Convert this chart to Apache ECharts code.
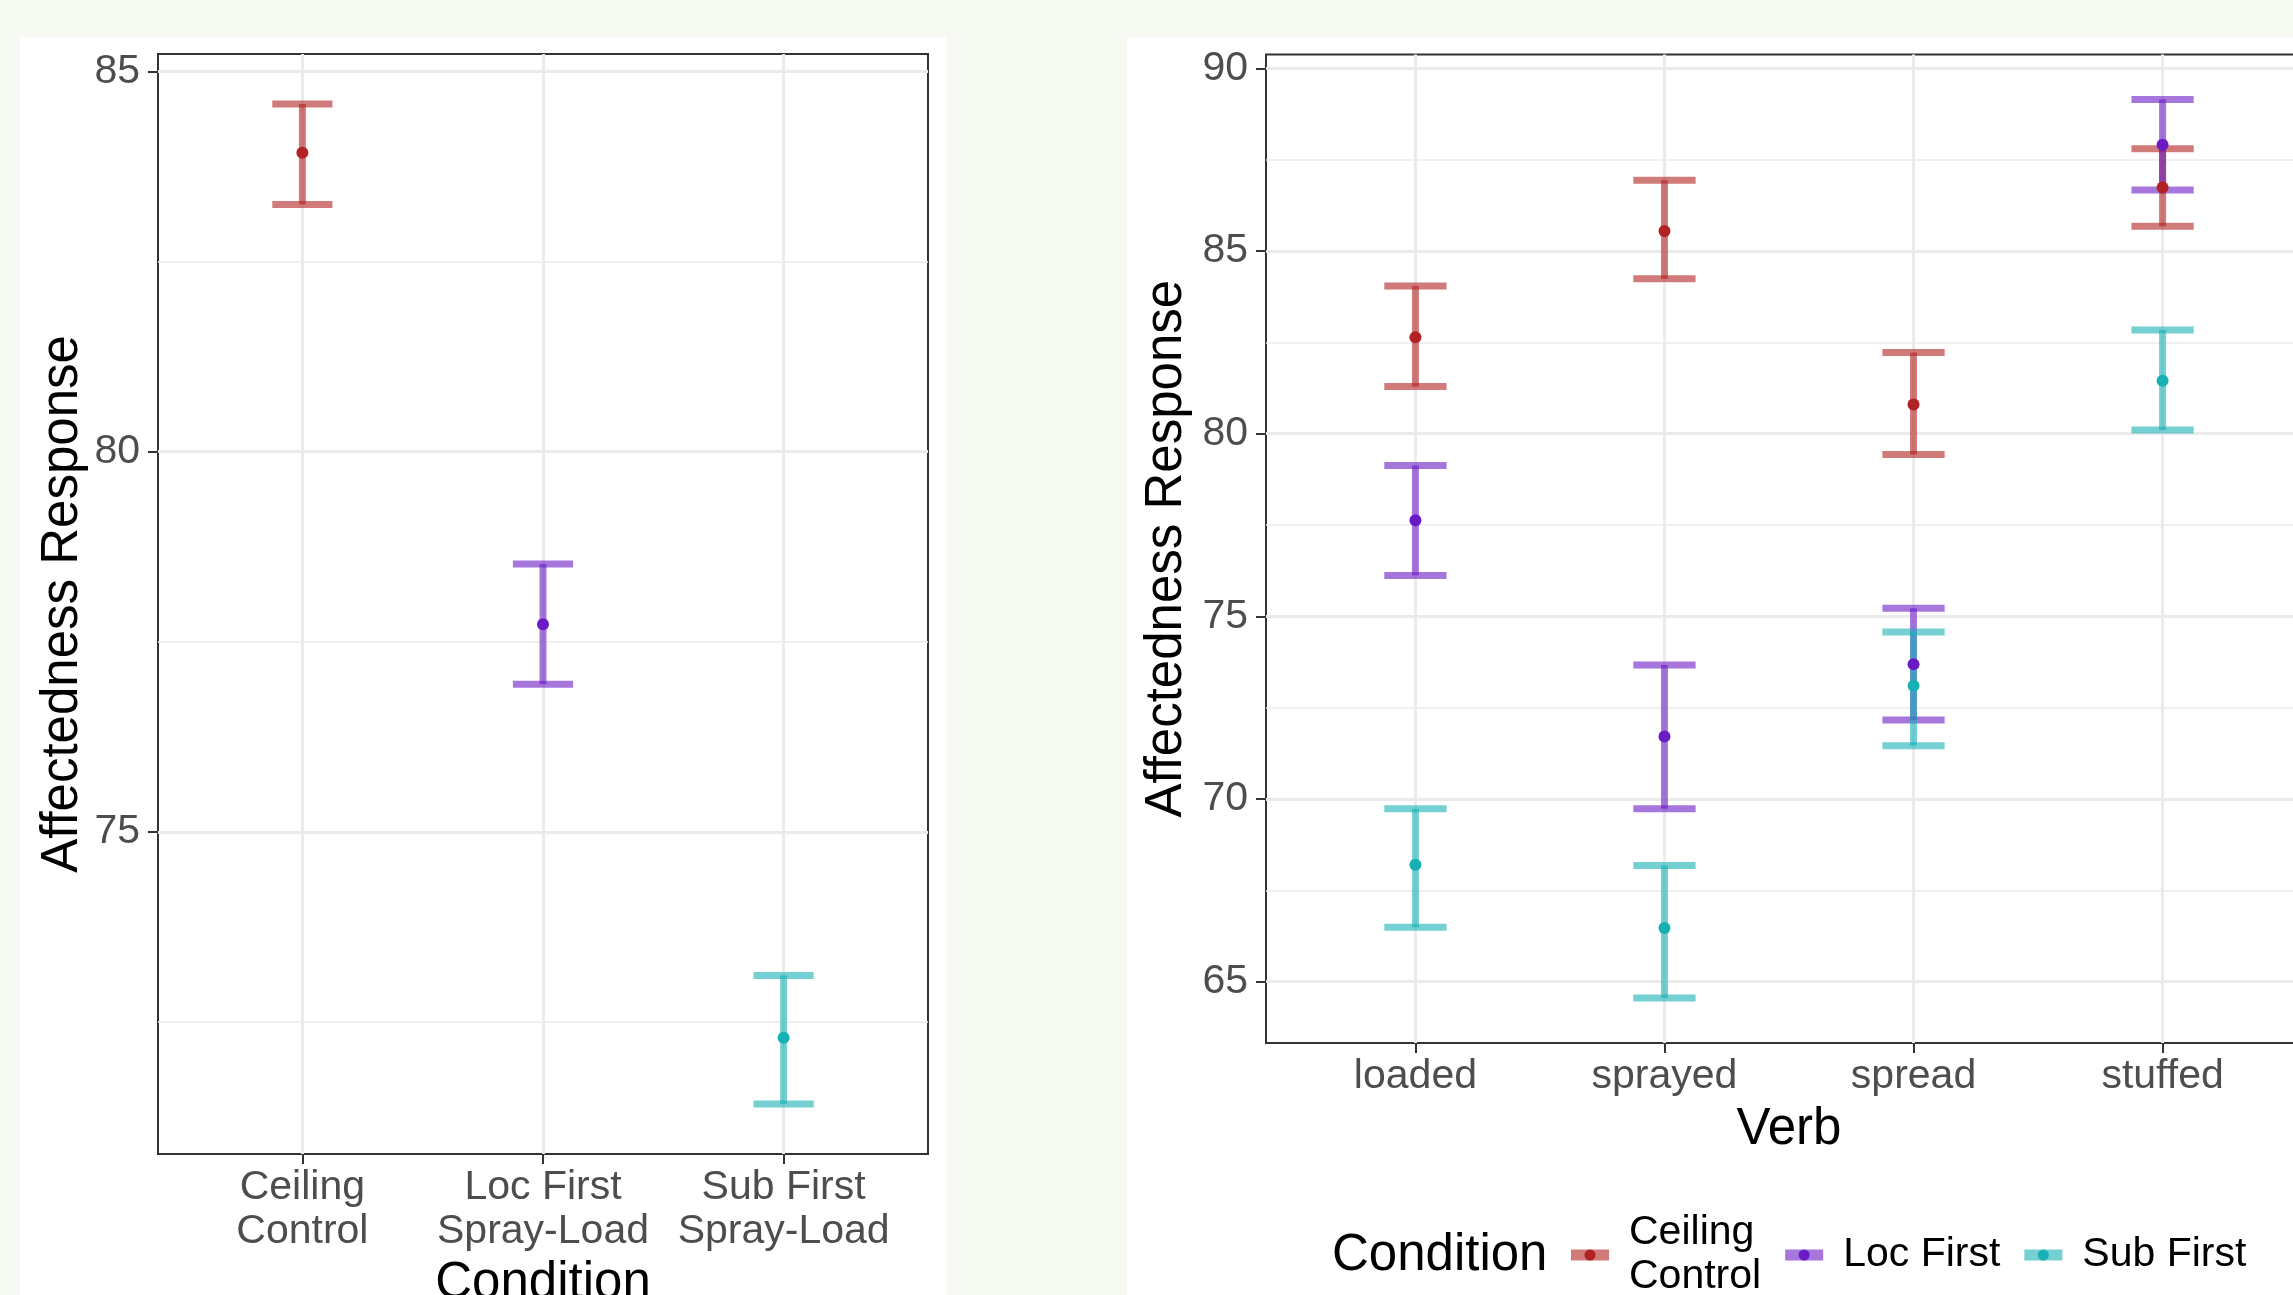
<!DOCTYPE html>
<html><head><meta charset="utf-8">
<script src="https://cdn.jsdelivr.net/npm/echarts@6/dist/echarts.min.js"></script>
<style>html,body{margin:0;padding:0;background:#f7f9f3;} #c{width:2293px;height:1295px;}</style>
</head><body><div id="c"></div>
<script>
// ---- data ----
const conditions = ['Ceiling Control', 'Loc First', 'Sub First'];
const legendLabels = ['Ceiling\nControl', 'Loc First', 'Sub First'];
const leftCategories = ['Ceiling\nControl', 'Loc First\nSpray-Load', 'Sub First\nSpray-Load'];
const leftMean = [83.93, 77.73, 72.29];
const leftLow  = [83.25, 76.94, 71.42];
const leftHigh = [84.57, 78.52, 73.11];
const leftYTicks = [75, 80, 85];
const leftYMinor = [72.5, 77.5, 82.5];

const verbs = ['loaded', 'sprayed', 'spread', 'stuffed'];
const ceilingMean = [82.64, 85.55, 80.80, 86.74];
const ceilingLow  = [81.29, 84.24, 79.43, 85.68];
const ceilingHigh = [84.04, 86.94, 82.22, 87.80];
const locMean = [77.63, 71.71, 73.69, 87.91];
const locLow  = [76.12, 69.73, 72.16, 86.67];
const locHigh = [79.13, 73.67, 75.22, 89.15];
const subMean = [68.20, 66.47, 73.10, 81.45];
const subLow  = [66.49, 64.55, 71.46, 80.10];
const subHigh = [69.73, 68.18, 74.57, 82.84];
const rightYTicks = [65, 70, 75, 80, 85, 90];
const rightYMinor = [67.5, 72.5, 77.5, 82.5, 87.5];

const colors = ['#b22222', '#6a1bc6', '#17b1b4'];

// ---- helpers ----
const FONT = "'Liberation Sans', Arial, Helvetica, sans-serif";
const CAP_HALF = 0.125;
function expand(lows, highs) {
  const lo = Math.min(...lows), hi = Math.max(...highs), d = (hi - lo) * 0.05;
  return [lo - d, hi + d];
}
function errRender(color) {
  return function (params, api) {
    const x = api.value(0), lo = api.value(1), hi = api.value(2);
    const pLo = api.coord([x, lo]), pHi = api.coord([x, hi]);
    const half = api.coord([x + CAP_HALF, lo])[0] - pLo[0];
    const st = { stroke: color, lineWidth: 7, opacity: 0.6, lineCap: 'butt' };
    return { type: 'group', children: [
      { type: 'line', shape: { x1: pLo[0], y1: pHi[1], x2: pLo[0], y2: pLo[1] }, style: st },
      { type: 'line', shape: { x1: pLo[0] - half, y1: pHi[1], x2: pLo[0] + half, y2: pHi[1] }, style: st },
      { type: 'line', shape: { x1: pLo[0] - half, y1: pLo[1], x2: pLo[0] + half, y2: pLo[1] }, style: st }
    ]};
  };
}
const tickStyle = { color: '#333333', width: 2 };
const labelStyle = { fontFamily: FONT, fontSize: 41, color: '#4d4d4d', lineHeight: 44 };
const nameStyle = { fontFamily: FONT, fontSize: 51, color: '#000', lineHeight: 51 };
const majorLine = { show: true, lineStyle: { color: '#ebebeb', width: 3 } };
const minorLine = { show: true, lineStyle: { color: '#ebebeb', width: 1.6 } };

const leftExt = expand(leftLow, leftHigh);
const rightExt = expand(ceilingLow.concat(locLow, subLow), ceilingHigh.concat(locHigh, subHigh));
const leftX = leftCategories.map((_, i) => i + 1);
const rightX = verbs.map((_, i) => i + 1);

function xAxisDef(grid, cats, xs, name, gap) {
  return {
    gridIndex: grid, type: 'value', min: 0.4, max: cats.length + 0.6,
    axisLine: { show: false },
    axisTick: { show: true, length: 10, customValues: xs, lineStyle: tickStyle },
    axisLabel: { customValues: xs, formatter: v => cats[Math.round(v) - 1], margin: 12, ...labelStyle },
    splitLine: majorLine,
    name: name, nameLocation: 'middle', nameGap: gap, nameTextStyle: nameStyle
  };
}
function yAxisDef(grid, ext, ticks, gap) {
  return {
    gridIndex: grid, type: 'value', min: ext[0], max: ext[1],
    axisLine: { show: false },
    axisTick: { show: true, length: 10, customValues: ticks, lineStyle: tickStyle },
    axisLabel: { customValues: ticks, margin: 18, ...labelStyle },
    splitLine: majorLine,
    name: 'Affectedness Response', nameLocation: 'middle', nameGap: gap, nameTextStyle: nameStyle
  };
}
function yMinorDef(grid, ext, ticks) {
  return {
    gridIndex: grid, type: 'value', min: ext[0], max: ext[1],
    axisLine: { show: false },
    axisTick: { show: false, customValues: ticks },
    axisLabel: { show: false, customValues: ticks },
    splitLine: minorLine
  };
}

const series = [];
conditions.forEach((c, i) => {
  series.push({ name: c, type: 'custom', xAxisIndex: 0, yAxisIndex: 0, z: 3,
    renderItem: errRender(colors[i]), encode: { x: 0, y: [1, 2] },
    data: [[leftX[i], leftLow[i], leftHigh[i]]] });
});
const rLow = [ceilingLow, locLow, subLow], rHigh = [ceilingHigh, locHigh, subHigh], rMean = [ceilingMean, locMean, subMean];
conditions.forEach((c, i) => {
  series.push({ name: c, type: 'custom', xAxisIndex: 1, yAxisIndex: 2, z: 3,
    renderItem: errRender(colors[i]), encode: { x: 0, y: [1, 2] },
    data: rightX.map((x, j) => [x, rLow[i][j], rHigh[i][j]]) });
});
conditions.forEach((c, i) => {
  series.push({ name: c, type: 'scatter', xAxisIndex: 0, yAxisIndex: 0, z: 5,
    symbolSize: 12, itemStyle: { color: colors[i], opacity: 1 },
    data: [[leftX[i], leftMean[i]]] });
});
conditions.forEach((c, i) => {
  series.push({ name: c, type: 'scatter', xAxisIndex: 1, yAxisIndex: 2, z: 5,
    symbolSize: 12, itemStyle: { color: colors[i], opacity: 1 },
    data: rightX.map((x, j) => [x, rMean[i][j]]) });
});

const legendBase = {
  orient: 'horizontal', left: 1571, top: 1211, padding: 0, itemGap: 24,
  itemWidth: 38, itemHeight: 11, selectedMode: false, symbolKeepAspect: true,
  formatter: n => legendLabels[conditions.indexOf(n)]
};
const BAR_ICON = 'path://M0,0H38V11H0Z';
const DOT_ICON = 'path://M0,0M38,0M38,11M0,11M24.5,5.5A5.5,5.5,0,1,1,13.5,5.5A5.5,5.5,0,1,1,24.5,5.5Z';

const option = {
  backgroundColor: '#f7f9f3',
  animation: false,
  graphic: { elements: [
    { type: 'rect', silent: true, z: -100, shape: { x: 20, y: 37, width: 926, height: 1300 }, style: { fill: '#ffffff' } },
    { type: 'rect', silent: true, z: -100, shape: { x: 1127, y: 37, width: 1200, height: 1300 }, style: { fill: '#ffffff' } }
  ]},
  title: { text: 'Condition', left: 1332, top: 1230, padding: 0,
    textStyle: { fontFamily: FONT, fontSize: 51, fontWeight: 'normal', color: '#000', lineHeight: 51 } },
  legend: [
    Object.assign({}, legendBase, {
      data: conditions.map((n, i) => ({ name: n, icon: BAR_ICON, itemStyle: { color: colors[i], opacity: 0.6 } })),
      textStyle: { fontFamily: FONT, fontSize: 41, color: '#000', lineHeight: 44, padding: [0, 0, 0, 15] }
    }),
    Object.assign({}, legendBase, {
      data: conditions.map((n, i) => ({ name: n, icon: DOT_ICON, itemStyle: { color: colors[i], opacity: 1 } })),
      textStyle: { fontFamily: FONT, fontSize: 41, color: 'rgba(0,0,0,0)', lineHeight: 44, padding: [0, 0, 0, 15] }
    })
  ],
  grid: [
    { left: 158, top: 54, width: 770, height: 1100, containLabel: false, outerBoundsMode: 'none',
      show: true, backgroundColor: '#ffffff', borderColor: '#333333', borderWidth: 2 },
    { left: 1266, top: 54.5, width: 1046, height: 988.5, containLabel: false, outerBoundsMode: 'none',
      show: true, backgroundColor: '#ffffff', borderColor: '#333333', borderWidth: 2 }
  ],
  xAxis: [
    xAxisDef(0, leftCategories, leftX, 'Condition', 100),
    xAxisDef(1, verbs, rightX, 'Verb', 61)
  ],
  yAxis: [
    yAxisDef(0, leftExt, leftYTicks, 70),
    yMinorDef(0, leftExt, leftYMinor),
    yAxisDef(1, rightExt, rightYTicks, 74),
    yMinorDef(1, rightExt, rightYMinor)
  ],
  series: series
};
const chart = echarts.init(document.getElementById('c'), null, { renderer: 'canvas' });
chart.setOption(option);
</script></body></html>
